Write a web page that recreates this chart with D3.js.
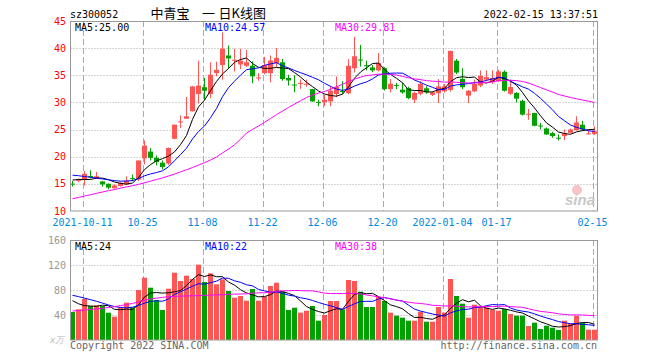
<!DOCTYPE html>
<html>
<head>
<meta charset="utf-8">
<script src="https://cdn.jsdelivr.net/npm/d3@7/dist/d3.min.js"></script>
<style>
  body { margin: 0; background: #fff; }
  text { font-family: "DejaVu Sans Mono", monospace; font-size: 10px; }
</style>
</head>
<body>
<svg id="kline" width="660" height="360"></svg>
<script>
// trading days shown on the chart
const dates = [
  '2021-09-30','2021-10-08','2021-10-11','2021-10-12','2021-10-13','2021-10-14','2021-10-15','2021-10-18','2021-10-19','2021-10-20',
  '2021-10-21','2021-10-22','2021-10-25','2021-10-26','2021-10-27','2021-10-28','2021-10-29','2021-11-01','2021-11-02','2021-11-03',
  '2021-11-04','2021-11-05','2021-11-08','2021-11-09','2021-11-10','2021-11-11','2021-11-12','2021-11-15','2021-11-16','2021-11-17',
  '2021-11-18','2021-11-19','2021-11-22','2021-11-23','2021-11-24','2021-11-25','2021-11-26','2021-11-29','2021-11-30','2021-12-01',
  '2021-12-02','2021-12-03','2021-12-06','2021-12-07','2021-12-08','2021-12-09','2021-12-10','2021-12-13','2021-12-14','2021-12-15',
  '2021-12-16','2021-12-17','2021-12-20','2021-12-21','2021-12-22','2021-12-23','2021-12-24','2021-12-27','2021-12-28','2021-12-29',
  '2021-12-30','2021-12-31','2022-01-04','2022-01-05','2022-01-06','2022-01-07','2022-01-10','2022-01-11','2022-01-12','2022-01-13',
  '2022-01-14','2022-01-17','2022-01-18','2022-01-19','2022-01-20','2022-01-21','2022-01-24','2022-01-25','2022-01-26','2022-01-27',
  '2022-01-28','2022-02-07','2022-02-08','2022-02-09','2022-02-10','2022-02-11','2022-02-14','2022-02-15'
];

const open = [
  15.05,15.6,15.8,16.45,16.0,15.45,15.0,14.2,14.6,14.9,
  16.05,15.8,19.7,20.95,19.8,18.9,18.75,23.3,26.4,27.0,
  28.4,31.55,32.8,31.55,35.4,36.9,38.65,37.8,37.0,36.75,
  36.75,34.5,35.4,35.4,37.25,37.4,34.5,33.3,33.55,33.4,
  32.45,30.1,30.05,30.2,31.55,32.1,31.7,36.3,37.9,36.85,
  36.45,35.9,36.3,32.45,33.2,32.35,32.65,30.5,31.6,32.6,
  31.4,31.7,32.05,32.3,37.7,34.35,31.25,32.05,33.1,34.2,
  33.7,33.9,35.65,31.6,31.75,30.3,27.8,28.05,25.75,25.2,
  24.35,23.5,23.8,24.4,24.9,25.9,24.25,24.2
];
const high = [
  15.5,16.0,17.35,17.5,17.2,15.5,15.1,14.9,15.3,16.4,
  16.7,19.3,23.0,21.6,20.2,19.3,21.7,25.9,27.6,31.0,
  33.0,37.7,34.5,37.4,37.5,42.9,40.5,39.9,39.9,39.7,
  37.55,35.4,38.4,38.65,40.0,38.0,35.1,35.0,34.2,34.2,
  32.5,30.5,31.4,32.95,34.8,33.9,38.0,42.1,40.6,37.7,
  36.9,39.1,36.5,34.3,33.6,33.6,32.9,32.0,33.9,33.0,
  32.0,34.3,33.4,39.5,38.0,36.3,32.3,34.2,35.9,35.9,
  35.9,36.0,35.9,34.2,31.9,30.5,28.8,28.1,26.2,25.4,
  24.6,24.1,25.0,25.2,27.45,26.6,25.0,25.6
];
const low = [
  14.5,15.3,14.7,16.0,15.9,14.5,14.0,14.1,14.5,14.8,
  15.5,15.5,18.6,19.3,18.4,17.65,18.5,23.2,25.25,26.95,
  28.3,29.8,30.5,30.8,34.8,34.2,36.3,35.7,36.15,36.5,
  33.55,34.0,35.2,33.7,36.5,34.0,33.1,31.85,32.5,32.9,
  30.1,29.3,29.3,29.3,31.0,31.5,31.5,35.5,36.6,35.9,
  35.6,35.7,32.2,31.85,32.45,31.6,30.6,29.9,31.3,31.6,
  31.2,29.9,31.8,32.0,35.2,32.45,29.9,31.9,32.8,33.9,
  33.4,33.8,32.0,31.4,30.0,27.6,26.8,25.6,25.0,24.0,
  23.5,23.0,23.05,24.3,24.8,24.8,24.1,24.0
];
const close = [
  15.0,15.75,16.85,16.4,16.4,14.9,14.3,14.7,15.2,15.6,
  16.0,19.3,22.05,19.8,19.0,18.1,21.6,25.9,26.5,27.45,
  32.95,33.1,32.15,35.1,36.0,39.9,38.1,37.85,37.7,37.4,
  34.8,34.6,36.9,37.7,38.2,34.3,34.05,33.25,33.6,33.45,
  30.2,30.05,30.5,32.15,32.85,32.05,36.75,38.5,37.85,36.8,
  35.9,37.25,32.45,33.45,33.15,31.85,30.8,31.75,33.4,31.85,
  31.85,32.95,32.95,39.5,35.5,32.8,32.15,33.4,34.9,34.65,
  34.5,35.7,32.15,32.85,30.7,27.75,27.9,25.7,25.7,24.1,
  23.8,23.45,24.3,25.0,26.3,25.0,24.3,24.7
];
// volume, 10k lots
const volume = [
  44.8,49.1,65.6,54.4,55.5,54.4,43.7,37.3,51.7,59.7,
  52.3,80,99.7,83.7,64,48,82.1,107.7,94.4,102.9,
  97.6,120.5,92.8,106.7,89.1,97.1,78.4,67.7,70.4,62.9,
  81.6,62.9,69.3,86.4,91.7,77.3,48,51.7,43.7,46.9,
  54.4,30.9,40,62.4,62.4,49.1,96,94.4,77.3,52.8,
  52.8,69.3,62.4,43.7,38.9,35.7,30.9,30.9,45.3,29.3,
  29.3,52.8,43.7,97.6,70.4,58.1,35.7,56.5,52.8,51.7,
  48,46.9,49.6,41.6,38.9,38.9,22.4,27.7,17.6,22.9,
  19.7,16,30.9,26,38.9,27.7,16.5,16.5
];

// moving-average values at the left edge (history before the window)
const priceMa5Lead = [15.7, 15.8, 15.8, 15.8];
const priceMa10Lead = [16.6, 16.5, 16.35, 16.2, 16.05, 15.9, 15.75, 15.6, 15.5];
const priceMa30Lead = [
  12.25,12.5,12.75,13.0,13.25,13.5,13.75,13.95,14.2,14.45,
  14.65,14.9,15.2,15.5,15.8,16.1,16.45,16.8,17.2,17.6,
  18.0,18.45,18.9,19.4,19.95,20.7,21.4,22.2,23.2
];
const volMa5Lead = [62.9, 58, 55, 54.4];
const volMa10Lead = [71.5, 69.5, 67, 64.5, 62, 59, 56, 53.5, 52];
const volMa30Lead = [
  46.4,47.2,48.0,48.9,49.8,50.7,52.0,53.5,55.0,56.7,
  58.5,60.8,63.5,65.5,67.0,68.2,69.3,69.8,70.2,70.5,
  70.8,71.0,71.4,71.8,72.2,72.6,73.0,73.4,73.6
];

const priceTicks = [10, 15, 20, 25, 30, 35, 40, 45];
const volTicks = [40, 80, 120, 160];
const tickDates = ['2021-10-11','2021-10-25','2021-11-08','2021-11-22','2021-12-06','2021-12-20','2022-01-04','2022-01-17','2022-02-15'];
const tickLabels = ['2021-10-11','10-25','11-08','11-22','12-06','12-20','2022-01-04','01-17','02-15'];

const up = '#ff5555', down = '#00a000';
const maColors = ['#000', '#0000ff', '#ff00ff'];

const svg = d3.select('#kline');
const left = 70.5, right = 597.5;

const x = d3.scaleLinear().domain([0, dates.length - 1]).range([72.5, 72.5 + 6 * (dates.length - 1)]);
const yP = d3.scaleLinear().domain([10, 45]).range([211, 21]);
const yV = d3.scaleLinear().domain([0, 160]).range([340, 240]);

function movingAvg(vals, n, lead) {
  return vals.map((v, i) => i < n - 1 ? lead[i] : d3.mean(vals.slice(i - n + 1, i + 1)));
}

// grid
const grid = svg.append('g');
priceTicks.slice(1, -1).forEach(t => {
  grid.append('line').attr('x1', left).attr('x2', right)
    .attr('y1', Math.round(yP(t)) + 0.5).attr('y2', Math.round(yP(t)) + 0.5)
    .attr('stroke', '#aaa').attr('stroke-dasharray', '1,2');
});
volTicks.slice(0, -1).forEach(t => {
  grid.append('line').attr('x1', left).attr('x2', right)
    .attr('y1', Math.round(yV(t)) + 0.5).attr('y2', Math.round(yV(t)) + 0.5)
    .attr('stroke', '#aaa').attr('stroke-dasharray', '1,2');
});
tickDates.forEach(d => {
  const xi = Math.round(x(dates.indexOf(d)) - 2) + 0.5;
  [[yP(45), yP(10)], [yV(160), yV(0)]].forEach(([a, b]) => {
    grid.append('line').attr('x1', xi).attr('x2', xi).attr('y1', a).attr('y2', b)
      .attr('stroke', '#aaa').attr('stroke-dasharray', '6,3');
  });
});

// sina watermark
svg.append('circle').attr('cx', 577).attr('cy', 190).attr('r', 5).attr('fill', '#f6c4c4');
svg.append('text').attr('x', 565).attr('y', 205)
  .style('font-family', '"Liberation Sans", sans-serif').style('font-size', '15px')
  .style('font-weight', 'bold').style('font-style', 'italic')
  .attr('fill', '#c8c8c8').text('sina');

// volume bars
svg.append('g').selectAll('rect')
  .data(volume)
  .enter().append('rect')
  .attr('x', (d, i) => x(i) - 2.5)
  .attr('y', d => yV(d))
  .attr('width', 5)
  .attr('height', d => yV(0) - yV(d))
  .attr('fill', (d, i) => close[i] >= open[i] ? up : down);

// candles
const candles = svg.append('g').selectAll('g')
  .data(dates)
  .enter().append('g');
candles.append('line')
  .attr('x1', (d, i) => Math.round(x(i) - 0.5) + 0.5)
  .attr('x2', (d, i) => Math.round(x(i) - 0.5) + 0.5)
  .attr('y1', (d, i) => yP(high[i]))
  .attr('y2', (d, i) => yP(low[i]))
  .attr('stroke', (d, i) => close[i] >= open[i] ? up : down);
candles.append('rect')
  .attr('x', (d, i) => x(i) - 2.5)
  .attr('y', (d, i) => yP(Math.max(open[i], close[i])))
  .attr('width', 5)
  .attr('height', (d, i) => Math.max(1, Math.abs(yP(open[i]) - yP(close[i]))))
  .attr('fill', (d, i) => close[i] >= open[i] ? up : down);

// moving averages
const priceMas = [movingAvg(close, 5, priceMa5Lead), movingAvg(close, 10, priceMa10Lead), movingAvg(close, 30, priceMa30Lead)];
const volMas = [movingAvg(volume, 5, volMa5Lead), movingAvg(volume, 10, volMa10Lead), movingAvg(volume, 30, volMa30Lead)];
const lineP = d3.line().x((d, i) => x(i)).y(d => yP(d));
const lineV = d3.line().x((d, i) => x(i)).y(d => yV(d));
priceMas.forEach((m, k) => svg.append('path').attr('d', lineP(m)).attr('fill', 'none').attr('stroke', maColors[k]).attr('stroke-width', 1));
volMas.forEach((m, k) => svg.append('path').attr('d', lineV(m)).attr('fill', 'none').attr('stroke', maColors[k]).attr('stroke-width', 1));

// frames
svg.append('rect').attr('x', left).attr('y', 21.5).attr('width', right - left).attr('height', 189.5)
  .attr('fill', 'none').attr('stroke', '#999');
svg.append('rect').attr('x', left).attr('y', 240.5).attr('width', right - left).attr('height', 99.5)
  .attr('fill', 'none').attr('stroke', '#999');

// axis labels
svg.append('g').selectAll('text')
  .data(priceTicks)
  .enter().append('text')
  .attr('x', 66).attr('y', d => yP(d) + 3.5)
  .attr('text-anchor', 'end').attr('fill', '#f00')
  .text(d => d);
svg.append('g').selectAll('text')
  .data(volTicks)
  .enter().append('text')
  .attr('x', 66).attr('y', d => yV(d) + 3.5)
  .attr('text-anchor', 'end').attr('fill', '#999')
  .text(d => d);
svg.append('text').attr('x', 50).attr('y', 343).attr('fill', '#bbb')
  .style('font-style', 'italic').style('font-size', '9px').text('x万');
svg.append('g').selectAll('text')
  .data(tickDates)
  .enter().append('text')
  .attr('x', d => x(dates.indexOf(d)) - 2)
  .attr('y', 226)
  .attr('text-anchor', 'middle').attr('fill', '#0088dd')
  .text((d, i) => tickLabels[i]);

// header
svg.append('text').attr('x', 70).attr('y', 17.5).attr('fill', '#000').text('sz300052');
const cjk = '"Noto Sans CJK SC", sans-serif';
[['中青宝', 150.5], ['一', 202], ['日K线图', 218.5]].forEach(([t, px]) => {
  svg.append('text').attr('x', px).attr('y', 18).style('font-family', cjk).style('font-size', '13px')
    .attr('fill', '#000').text(t);
});
svg.append('text').attr('x', 598).attr('y', 17.5).attr('text-anchor', 'end').attr('fill', '#000').text('2022-02-15 13:37:51');

// MA legends
const priceLegend = ['MA5:25.00', 'MA10:24.57', 'MA30:29.81'];
const volLegend = ['MA5:24', 'MA10:22', 'MA30:38'];
const legendX = [75, 205, 335];
priceLegend.forEach((t, k) => svg.append('text').attr('x', legendX[k]).attr('y', 31).attr('fill', maColors[k]).text(t));
volLegend.forEach((t, k) => svg.append('text').attr('x', legendX[k]).attr('y', 250).attr('fill', maColors[k]).text(t));

// footer
svg.append('text').attr('x', 70).attr('y', 349).attr('fill', '#666').text('Copyright 2022 SINA.COM');
svg.append('text').attr('x', 597).attr('y', 349).attr('text-anchor', 'end').attr('fill', '#666').text('http://finance.sina.com.cn');
</script>
</body>
</html>
